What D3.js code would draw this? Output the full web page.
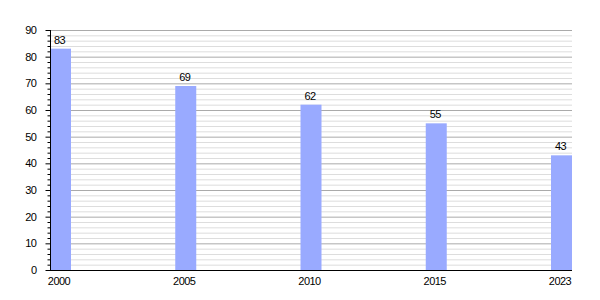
<!DOCTYPE html>
<html>
<head>
<meta charset="utf-8">
<script src="https://cdn.jsdelivr.net/npm/d3@7"></script>
<style>
body{margin:0;background:#fff;}
text{font-family:"Liberation Sans",Arial,sans-serif;font-size:11px;fill:#000;letter-spacing:-0.5px;}
</style>
</head>
<body>
<svg id="c" width="600" height="300"></svg>
<script>
const years = ["2000","2005","2010","2015","2023"];
const values = [83,69,62,55,43];
const yMax = 90;
const yMajorTicks = [0,10,20,30,40,50,60,70,80,90];

const mLeft = 50, mRight = 572, mTop = 30, mBottom = 270, barW = 21;
const svg = d3.select("#c");
const x = d3.scalePoint().domain(years).range([mLeft, mRight - barW]);
const y = d3.scaleLinear().domain([0, yMax]).range([mBottom, mTop]);
const minor = d3.range(0, yMax + 0.001, 2).filter(v => v % 10 !== 0);

// minor grid
svg.append("g").selectAll("line").data(minor).join("line")
  .attr("x1", mLeft).attr("x2", mRight).attr("y1", d => y(d) + 0.5).attr("y2", d => y(d) + 0.5)
  .attr("stroke", "#dddddd").attr("stroke-width", 1);
// major grid
svg.append("g").selectAll("line").data(yMajorTicks.filter(d => d > 0)).join("line")
  .attr("x1", mLeft).attr("x2", mRight).attr("y1", d => y(d) + 0.5).attr("y2", d => y(d) + 0.5)
  .attr("stroke", "#aaaaaa").attr("stroke-width", 1);

// bars
svg.append("g").selectAll("rect").data(values).join("rect")
  .attr("x", (d, i) => x(years[i]))
  .attr("y", d => y(d))
  .attr("width", barW)
  .attr("height", d => mBottom - y(d))
  .attr("fill", "#99aaff");

// value labels
svg.append("g").selectAll("text").data(values).join("text")
  .attr("x", (d, i) => x(years[i]) + barW / 2 - 1)
  .attr("y", d => y(d) - 5)
  .attr("text-anchor", "middle")
  .text(d => d);

// y axis
const yAxis = d3.axisLeft(y).tickValues(yMajorTicks).tickSize(5).tickPadding(9);
const gy = svg.append("g").attr("transform", `translate(${mLeft + 0.5},0)`).call(yAxis);
gy.select(".domain").attr("stroke", "#000").attr("d", `M0,${mTop}V${mBottom}`);
gy.selectAll(".tick line").attr("stroke", "#000");
gy.selectAll("text").style("font-size", "11px").attr("font-family", null);
const yMinorAxis = d3.axisLeft(y).tickValues(minor).tickSize(3).tickFormat("");
const gym = svg.append("g").attr("transform", `translate(${mLeft + 0.5},0)`).call(yMinorAxis);
gym.select(".domain").remove();
gym.selectAll(".tick line").attr("stroke", "#000");

// x axis
const xAxis = d3.axisBottom(x).tickSize(0).tickPadding(7);
const gx = svg.append("g").attr("transform", `translate(${barW/2 - 2},${mBottom + 0.5})`).call(xAxis);
gx.select(".domain").remove();
gx.selectAll("text").attr("font-family", null);
svg.append("line").attr("x1", mLeft).attr("x2", mRight).attr("y1", mBottom + 0.5).attr("y2", mBottom + 0.5)
  .attr("stroke", "#000");
</script>
</body>
</html>
